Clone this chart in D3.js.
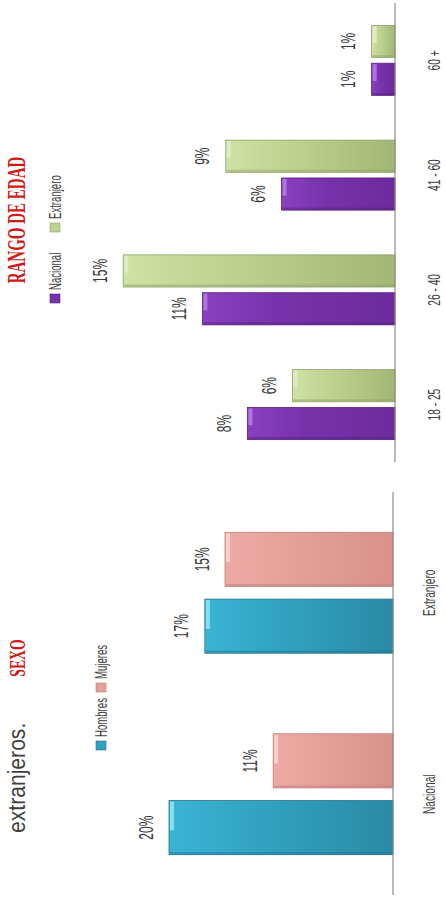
<!DOCTYPE html>
<html>
<head>
<meta charset="utf-8">
<script src="https://cdn.jsdelivr.net/npm/d3@7"></script>
<style>
  body { margin: 0; background: #fff; }
  svg { display: block; }
</style>
</head>
<body>
<script>
// values (percent of visitors)
const ageGroups = ["18 - 25", "26 - 40", "41 - 60", "60 +"];
const ageNacional = [8.2, 10.7, 6.3, 1.3];
const ageExtranjero = [5.7, 15.1, 9.4, 1.3];
const ageSeries = ["Nacional", "Extranjero"];

const sexGroups = ["Nacional", "Extranjero"];
const sexHombres = [20.0, 16.8];
const sexMujeres = [10.7, 15.0];
const sexSeries = ["Hombres", "Mujeres"];

const W = 446, H = 903;
const SX = 0.6; // the picture's text is squeezed along its reading direction

const svg = d3.select("body").append("svg").attr("width", W).attr("height", H);
// whole slide is turned a quarter turn: draw upright, then rotate
const g = svg.append("g").attr("transform", `translate(0,${H}) rotate(-90)`);

const colors = {
    Nacional:   {top: "#8a40c0", mid: "#7732aa", bot: "#6c2c9c", tip: "#b47ae6", edge: "#55207e"},
    Extranjero: {top: "#cde2a4", mid: "#bdd290", bot: "#a2b676", tip: "#e0eec4", edge: "#8fa265"},
    Hombres:    {top: "#3bb4d4", mid: "#31a3c2", bot: "#2a8aa4", tip: "#8fe2f4", edge: "#22728a"},
    Mujeres:    {top: "#eeaaa4", mid: "#e6a09a", bot: "#d8918b", tip: "#f8d4cf", edge: "#c07e78"}
};

const defs = svg.append("defs");
Object.keys(colors).forEach(k => {
    const c = colors[k];
    const lg = defs.append("linearGradient").attr("id", "grad-" + k)
        .attr("x1", 0).attr("y1", 0).attr("x2", 0).attr("y2", 1);
    lg.append("stop").attr("offset", "0%").attr("stop-color", c.top);
    lg.append("stop").attr("offset", "40%").attr("stop-color", c.mid);
    lg.append("stop").attr("offset", "100%").attr("stop-color", c.bot);
});

function squeezed(parent, x, y, txt, size, opts) {
    opts = opts || {};
    const t = parent.append("g").attr("transform", `translate(${x},${y}) scale(${opts.sx || SX},1)`);
    t.append("text")
        .attr("text-anchor", opts.anchor || "middle")
        .style("font-family", opts.family || "'Liberation Sans', Arial, sans-serif")
        .style("font-size", size + "px")
        .style("font-weight", opts.weight || "normal")
        .style("fill", opts.fill || "#404040")
        .text(txt);
    return t;
}

function drawChart(opts) {
    const x = d3.scaleBand().domain(opts.groups).range(opts.xRange)
        .paddingInner(opts.padIn).paddingOuter(opts.padIn / 2);
    const sub = d3.scaleBand().domain(opts.series).range([0, x.bandwidth()])
        .paddingInner(opts.subPad);
    const y = d3.scaleLinear().domain(opts.yDomain).range(opts.yRange);

    const rows = [];
    opts.groups.forEach((grp, i) => {
        opts.series.forEach((s, j) => {
            rows.push({group: grp, series: s, value: opts.values[j][i]});
        });
    });

    const bars = g.append("g").selectAll("g").data(rows).enter().append("g")
        .attr("transform", d => `translate(${x(d.group) + sub(d.series)},0)`);

    bars.append("rect")
        .attr("x", 0)
        .attr("y", d => y(d.value))
        .attr("width", sub.bandwidth())
        .attr("height", d => y(0) - y(d.value))
        .attr("fill", d => `url(#grad-${d.series})`)
        .attr("stroke", d => colors[d.series].edge)
        .attr("stroke-width", 0.8);

    // bevel light at the tip of each bar
    bars.append("rect")
        .attr("x", sub.bandwidth() * 0.45)
        .attr("y", d => y(d.value) + 1)
        .attr("width", sub.bandwidth() * 0.55 - 1)
        .attr("height", 4)
        .attr("fill", d => colors[d.series].tip)
        .attr("opacity", 0.9);
    // darker side edge
    bars.append("rect")
        .attr("x", 0.5)
        .attr("y", d => y(d.value) + 1)
        .attr("width", 2)
        .attr("height", d => Math.max(0, y(0) - y(d.value) - 1))
        .attr("fill", d => colors[d.series].edge)
        .attr("opacity", 0.5);

    bars.each(function(d) {
        squeezed(d3.select(this), sub.bandwidth() / 2, y(d.value) - 16.5,
            Math.round(d.value) + "%", 20, {fill: "#3a3a3a"});
    });

    const axis = g.append("g")
        .attr("transform", `translate(0,${y(0)})`)
        .call(d3.axisBottom(x).tickSize(0).tickSizeOuter(0).tickPadding(opts.labelPad));
    axis.select(".domain").attr("stroke", "#8c8c8c").attr("stroke-width", 1.2)
        .attr("d", `M${opts.xRange[0]},0H${opts.xRange[1]}`);
    axis.selectAll("text")
        .attr("transform", `scale(${SX},1)`)
        .style("font-family", "'Liberation Sans', Arial, sans-serif")
        .style("font-size", "17px")
        .style("fill", "#404040");
}

// age chart (upper part of the picture)
drawChart({
    groups: ageGroups, series: ageSeries, values: [ageNacional, ageExtranjero],
    xRange: [441, 900], padIn: 0.39, subPad: 0.15,
    yDomain: [0, 16], yRange: [395, 395 - 16 * 18], labelPad: 33
});

// sex chart (lower part of the picture)
drawChart({
    groups: sexGroups, series: sexSeries, values: [sexHombres, sexMujeres],
    xRange: [8, 411], padIn: 0.4, subPad: 0.19,
    yDomain: [0, 22], yRange: [393, 393 - 22 * 11.2], labelPad: 30
});

// titles
squeezed(g, 683, 25, "RANGO DE EDAD", 25,
    {family: "'Liberation Serif', 'DejaVu Serif', serif", weight: "bold", fill: "#d01818"});
squeezed(g, 245, 25, "SEXO", 23,
    {family: "'Liberation Serif', 'DejaVu Serif', serif", weight: "bold", fill: "#d01818"});

// end of the slide's sentence, sitting at the left edge
squeezed(g, 70, 25, "extranjeros.", 24, {anchor: "start", sx: 0.88, fill: "#404040"});

// legends
function legend(items, v) {
    items.forEach(it => {
        g.append("rect").attr("x", it.u).attr("y", v - 11).attr("width", 9).attr("height", 10)
            .attr("fill", colors[it.key].mid).attr("stroke", colors[it.key].edge).attr("stroke-width", 0.6);
        squeezed(g, it.u + 13, v, it.key, 16, {anchor: "start"});
    });
}
legend([{key: "Nacional", u: 600}, {key: "Extranjero", u: 671}], 61);
legend([{key: "Hombres", u: 153}, {key: "Mujeres", u: 211}], 107);
</script>
</body>
</html>
